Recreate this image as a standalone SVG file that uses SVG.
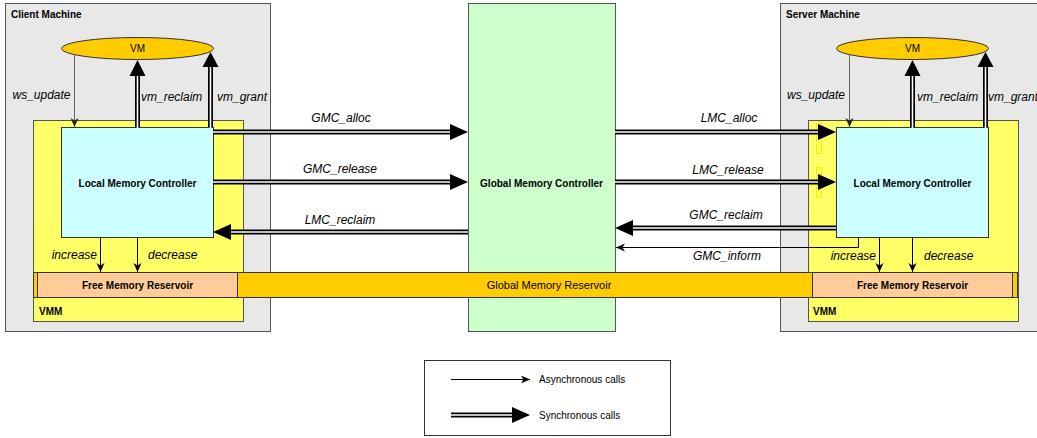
<svg xmlns="http://www.w3.org/2000/svg" width="1037" height="438" viewBox="0 0 1037 438">
<defs>
<style>
text{font-family:"Liberation Sans",Arial,sans-serif;fill:#000}
.b{font-weight:bold;font-size:10px}
.t{font-size:10px}
.lab{font-style:italic;font-size:12px}
.mach{fill:#e8e8e8;stroke:#555;stroke-width:1}
.vmm{fill:#ffff66;stroke:#555;stroke-width:1}
.lmc{fill:#ccffff;stroke:#333;stroke-width:1}
.gmc{fill:#ccffcc;stroke:#555;stroke-width:1}
.vm{fill:#ffcc00;stroke:#333;stroke-width:1}
.band{fill:#ffcc00;stroke:#333;stroke-width:1}
.fmr{fill:#ffcc99;stroke:#333;stroke-width:1}
.dbo{fill:none;stroke:#000;stroke-width:5}
.dbi{fill:none;stroke:#fff;stroke-width:1.6}
.head{fill:#000}
.thin{fill:none;stroke:#000;stroke-width:1;marker-end:url(#ah)}
.gray{fill:none;stroke:#666;stroke-width:1;marker-end:url(#ahg)}
.ghost{fill:none;stroke:#f4f000;stroke-width:1}
</style>
<marker id="ah" markerWidth="10" markerHeight="10" refX="9" refY="4" orient="auto" markerUnits="userSpaceOnUse"><path d="M0,0 L9,4 L0,8 L2.5,4 z" fill="#000"/></marker>
<marker id="ahg" markerWidth="10" markerHeight="10" refX="9" refY="4" orient="auto" markerUnits="userSpaceOnUse"><path d="M0,0 L9,4 L0,8 L2.5,4 z" fill="#222"/></marker>
</defs>

<g id="client-machine">
<rect class="mach" x="5.5" y="3.5" width="265" height="328"/>
<text class="b" x="11" y="18">Client Machine</text>
</g>
<g id="server-machine">
<rect class="mach" x="780.5" y="3.5" width="262" height="328"/>
<text class="b" x="786" y="18">Server Machine</text>
</g>
<g id="client-vmm">
<rect class="vmm" x="33.5" y="120.5" width="210" height="201"/>
<text class="b" x="39" y="315">VMM</text>
</g>
<g id="server-vmm">
<rect class="vmm" x="808.5" y="120.5" width="210" height="201"/>
<text class="b" x="813" y="315">VMM</text>
<rect class="ghost" x="816.5" y="123.5" width="5" height="30"/>
<rect class="ghost" x="816.5" y="167.5" width="5" height="30"/>
</g>
<g id="gmc">
<rect class="gmc" x="468.5" y="3.5" width="147" height="328"/>
<text class="b" x="541.5" y="187" text-anchor="middle">Global Memory Controller</text>
</g>
<g id="global-memory-reservoir">
<rect class="band" x="33.5" y="272.5" width="984" height="25"/>
<text class="t" x="549" y="289" text-anchor="middle" style="font-size:11px">Global Memory Reservoir</text>
</g>
<g id="client-fmr">
<rect class="fmr" x="37.5" y="272.5" width="200" height="25"/>
<text class="b" x="137.5" y="289" text-anchor="middle">Free Memory Reservoir</text>
</g>
<g id="server-fmr">
<rect class="fmr" x="812.5" y="272.5" width="200" height="25"/>
<text class="b" x="912.5" y="289" text-anchor="middle">Free Memory Reservoir</text>
</g>
<g id="client-lmc">
<rect class="lmc" x="61.5" y="127.5" width="152" height="110"/>
<text class="b" x="137.5" y="187" text-anchor="middle">Local Memory Controller</text>
</g>
<g id="server-lmc">
<rect class="lmc" x="836.5" y="127.5" width="152" height="110"/>
<text class="b" x="912.5" y="187" text-anchor="middle">Local Memory Controller</text>
</g>
<g id="client-vm">
<ellipse class="vm" cx="137.5" cy="48.5" rx="76" ry="11"/>
<text class="t" x="137.5" y="52" text-anchor="middle">VM</text>
</g>
<g id="server-vm">
<ellipse class="vm" cx="912.5" cy="48.5" rx="76" ry="11"/>
<text class="t" x="912.5" y="52" text-anchor="middle">VM</text>
</g>

<g id="connectors">
<path class="gray" d="M74.5,55 V127"/>
<path class="dbo" d="M137.5,127 V75"/><path class="dbi" d="M137.5,128 V74"/>
<polygon class="head" points="129.5,76 137.5,60 145.5,76"/>
<path class="dbo" d="M210.5,127 V66"/><path class="dbi" d="M210.5,128 V65"/>
<polygon class="head" points="202.5,67 210.5,52 218.5,67"/>
<path class="gray" d="M849.5,55 V127"/>
<path class="dbo" d="M912.5,127 V75"/><path class="dbi" d="M912.5,128 V74"/>
<polygon class="head" points="904.5,76 912.5,60 920.5,76"/>
<path class="dbo" d="M985.5,127 V66"/><path class="dbi" d="M985.5,128 V65"/>
<polygon class="head" points="977.5,67 985.5,52 993.5,67"/>
<path class="dbo" d="M213,132 H452"/><path class="dbi" d="M213,132 H452"/>
<polygon class="head" points="450,124 468,132 450,140"/>
<path class="dbo" d="M213,182 H452"/><path class="dbi" d="M213,182 H452"/>
<polygon class="head" points="450,174 468,182 450,190"/>
<path class="dbo" d="M468,232 H229"/><path class="dbi" d="M468,232 H229"/>
<polygon class="head" points="231,224 213,232 231,240"/>
<path class="dbo" d="M615,132 H820"/><path class="dbi" d="M615,132 H820"/>
<polygon class="head" points="818,124 836,132 818,140"/>
<path class="dbo" d="M615,182 H820"/><path class="dbi" d="M615,182 H820"/>
<polygon class="head" points="818,174 836,182 818,190"/>
<path class="dbo" d="M836,228 H631"/><path class="dbi" d="M836,228 H631"/>
<polygon class="head" points="633,220 615,228 633,236"/>
<path class="thin" d="M858.5,237 V247.5 H616"/>
<path class="thin" d="M100.5,238 V272"/>
<path class="thin" d="M137.5,238 V272"/>
<path class="thin" d="M879.5,238 V272"/>
<path class="thin" d="M912.5,238 V272"/>
</g>

<g id="labels">
<text class="lab" x="41.5" y="99" text-anchor="middle">ws_update</text>
<text class="lab" x="141" y="101">vm_reclaim</text>
<text class="lab" x="242" y="101" text-anchor="middle">vm_grant</text>
<text class="lab" x="816" y="99" text-anchor="middle">ws_update</text>
<text class="lab" x="917" y="101">vm_reclaim</text>
<text class="lab" x="988" y="101">vm_grant</text>
<text class="lab" x="341" y="122" text-anchor="middle">GMC_alloc</text>
<text class="lab" x="340" y="173" text-anchor="middle">GMC_release</text>
<text class="lab" x="340" y="224" text-anchor="middle">LMC_reclaim</text>
<text class="lab" x="729" y="122" text-anchor="middle">LMC_alloc</text>
<text class="lab" x="728" y="174" text-anchor="middle">LMC_release</text>
<text class="lab" x="726" y="219" text-anchor="middle">GMC_reclaim</text>
<text class="lab" x="727" y="260" text-anchor="middle">GMC_inform</text>
<text class="lab" x="97" y="259" text-anchor="end">increase</text>
<text class="lab" x="148" y="259">decrease</text>
<text class="lab" x="876" y="260" text-anchor="end">increase</text>
<text class="lab" x="924" y="260">decrease</text>
</g>

<g id="legend">
<rect x="424.5" y="360.5" width="246" height="75" fill="#fff" stroke="#333" stroke-width="1"/>
<path class="thin" d="M451,379.5 H530"/>
<text class="t" x="539" y="383">Asynchronous calls</text>
<path class="dbo" d="M451,415 H514"/><path class="dbi" d="M451,415 H514"/>
<polygon class="head" points="512,407 530,415 512,423"/>
<text class="t" x="539" y="419">Synchronous calls</text>
</g>
</svg>
